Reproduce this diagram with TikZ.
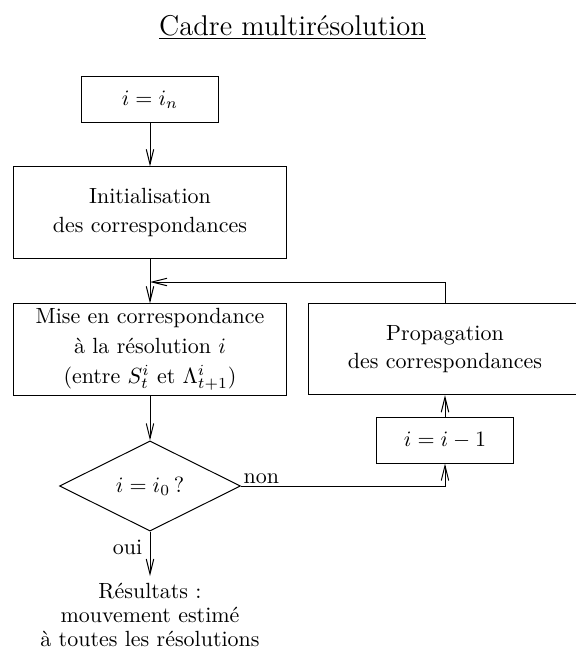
\documentclass[tikz,border=0pt]{standalone}
\usetikzlibrary{shapes.geometric,arrows.meta}
\begin{document}
\begin{tikzpicture}[x=0.455pt,y=-0.455pt,
  box/.style={draw, line width=0.45pt, inner sep=1pt, align=center},
  smallbox/.style={box, minimum width=61.9pt, minimum height=20.5pt},
  bigbox/.style={box, minimum width=124pt, minimum height=41.6pt},
  dia/.style={draw, line width=0.45pt, diamond, aspect=2.01, minimum width=82.4pt, minimum height=41pt, inner sep=0pt},
  arr/.style={line width=0.45pt, -{Straight Barb[length=6.8pt,width=3.4pt]}},
  conn/.style={line width=0.45pt}]
\useasboundingbox (0,0) rectangle (576,650);
\node[anchor=base, inner sep=0pt, font=\fontsize{13}{16}\selectfont] (title) at (292.5,35) {\underline{Cadre multirésolution}};
\node[smallbox] (n1) at (150,99.5) {$i=i_n$};
\node[bigbox] (init) at (150,212.5) {Initialisation\\[1pt]des correspondances};
\node[bigbox] (mise) at (150,349.5) {Mise en correspondance\\[1.5pt]à la résolution $i$\\[1.5pt](entre $S_t^i$ et $\Lambda_{t+1}^i$)};
\node[bigbox] (prop) at (445,349) {Propagation\\[1pt]des correspondances};
\node[smallbox] (dec) at (445,440.5) {$i=i-1$};
\node[dia] (test) at (150,486) {$i=i_0\,$?};
\node[anchor=north, align=center, inner sep=3pt] (res) at (150,576) {Résultats :\\[-1pt]mouvement estimé\\[-1pt]à toutes les résolutions};
\coordinate (j) at (150,282);
\draw[arr] (n1) -- (init);
\draw[arr] (init) -- (mise);
\draw[arr] (prop.north) |- (j);
\draw[arr] (mise) -- (test);
\draw[arr] (test.east) -| node[pos=0, anchor=south west, inner sep=1pt] (non) {non} (dec.south);
\draw[arr] (dec) -- (prop);
\draw[arr] (test) -- node[left, pos=0.36] (oui) {oui} (res);
\end{tikzpicture}
\end{document}
